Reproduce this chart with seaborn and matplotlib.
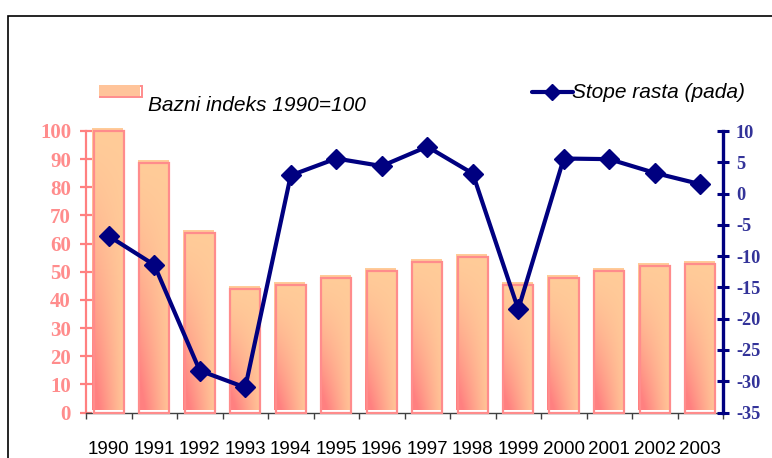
import numpy as np
import pandas as pd
import matplotlib
matplotlib.use("Agg")
import matplotlib.pyplot as plt
import matplotlib.transforms as mtransforms
from matplotlib.patches import Rectangle
from matplotlib.lines import Line2D
import seaborn as sns

# ---- data ----
years = ["1990", "1991", "1992", "1993", "1994", "1995", "1996",
         "1997", "1998", "1999", "2000", "2001", "2002", "2003"]
base_index = [100, 88.6, 63.8, 43.7, 45.2, 47.8, 50.2, 53.5, 55.3, 45.2, 47.8, 50.4, 52.1, 52.9]
growth_rates = [-6.8, -11.4, -28.3, -31.0, 2.9, 5.6, 4.4, 7.5, 3.2, -18.5, 5.6, 5.5, 3.3, 1.5]
left_ticks = [0, 10, 20, 30, 40, 50, 60, 70, 80, 90, 100]
right_ticks = [-35, -30, -25, -20, -15, -10, -5, 0, 5, 10]
legend_bar = "Bazni indeks 1990=100"
legend_line = "Stope rasta (pada)"

PINK = "#FF8080"
PEACH = "#FFCC99"
NAVY = "#000080"
RLABEL = "#333399"

W, H = 772, 458
sns.set_theme(style="white")
plt.rcParams['font.family'] = ['Liberation Sans', 'DejaVu Sans']

def fx(x):
    return x / W

def fy(y):
    return 1 - y / H

fig = plt.figure(figsize=(W / 100, H / 100), dpi=100)
ax = fig.add_axes([fx(86), fy(412.5), (723 - 86) / W, (412.5 - 131) / H])

df = pd.DataFrame({"year": years, "index": base_index, "rate": growth_rates})
sns.barplot(data=df, x="year", y="index", ax=ax, width=0.66, color=PEACH, zorder=3)

# gradient fill for each bar, slightly shifted up-left, outline drawn on top
pk = np.array(matplotlib.colors.to_rgb(PINK))
pc = np.array(matplotlib.colors.to_rgb(PEACH))
ny, nx = 80, 30
yy, xx = np.mgrid[0:ny, 0:nx]
yr = yy / (ny - 1)
xr = xx / (nx - 1)
w = np.clip(1.15 * (1 - xr) ** 1.1 * (1 - yr) ** 1.6 + 0.12 * (1 - yr), 0, 1)
grad = pc[None, None, :] * (1 - w[..., None]) + pk[None, None, :] * w[..., None]

off = mtransforms.ScaledTranslation(-1.5 / 100, 2.5 / 100, fig.dpi_scale_trans)
for p in ax.patches:
    x0 = p.get_x()
    x1 = x0 + p.get_width()
    h = p.get_height()
    im = ax.imshow(grad, extent=(x0, x1, 0, h), origin="lower", aspect="auto",
                   interpolation="bilinear", zorder=2, transform=ax.transData + off)
    im.set_clip_on(False)
    p.set_facecolor("none")
    p.set_edgecolor("#FF8C8C")
    p.set_linewidth(1.6)
    p.set_clip_on(False)

ax.set_xlim(-0.5, len(years) - 0.5)
ax.set_ylim(0, 100)
ax.set_xlabel("")
ax.set_ylabel("")

# twin axis line
ax2 = ax.twinx()
sns.lineplot(x=np.arange(len(years)), y=growth_rates, ax=ax2, color=NAVY,
             linewidth=3.0, marker="D", markersize=10.5, markeredgecolor=NAVY,
             markeredgewidth=1, sort=False, zorder=5)
ax2.set_ylim(-35, 10)
ax2.set_xlim(-0.5, len(years) - 0.5)
ax2.set_ylabel("")

# spines
for s in ["top", "right"]:
    ax.spines[s].set_visible(False)
ax.spines["left"].set_color(PINK)
ax.spines["left"].set_linewidth(1.6)
ax.spines["bottom"].set_color("#404040")
ax.spines["bottom"].set_linewidth(1.0)
for s in ["top", "left", "bottom"]:
    ax2.spines[s].set_visible(False)
ax2.spines["right"].set_color(NAVY)
ax2.spines["right"].set_linewidth(2.4)

# ticks
serif = {"family": "Liberation Serif", "weight": "bold"}
ax.set_yticks(left_ticks)
ax.set_yticklabels([str(t) for t in left_ticks], fontdict=dict(serif, size=15))
ax.tick_params(axis="y", left=True, direction="inout", length=8.6, width=1.6,
               color=PINK, labelcolor="#FF8C8C", pad=6.5)
ax2.set_yticks(right_ticks)
ax2.set_yticklabels([str(t) for t in right_ticks], fontdict=dict(serif, size=13.2))
ax2.tick_params(axis="y", right=True, direction="inout", length=8.6, width=2.2,
                color=NAVY, labelcolor=RLABEL, pad=5.0)

ax.set_xticks(np.arange(-0.5, len(years), 1.0))
ax.set_xticklabels([])
ax.set_xticks(np.arange(len(years)), minor=True)
ax.set_xticklabels(years, minor=True, fontsize=13.5, color="black")
ax.tick_params(axis="x", which="major", bottom=True, direction="out", length=4.5,
               width=1.0, color="#404040", labelbottom=False)
ax.tick_params(axis="x", which="minor", bottom=True, length=0, pad=20.5)

# legend (manual)
fig.add_artist(Rectangle((fx(100), fy(97)), 42 / W, 11 / H, transform=fig.transFigure,
                         facecolor="none", edgecolor="#FF8C8C", linewidth=1.4))
fig.add_artist(Rectangle((fx(98.5), fy(95.5)), 41 / W, 10 / H, transform=fig.transFigure,
                         facecolor="#FFC49A", edgecolor="none"))
fig.text(fx(148), fy(110.7), legend_bar, fontsize=15, fontstyle="italic",
         ha="left", va="baseline", color="black")
fig.add_artist(Line2D([fx(532), fx(573)], [fy(91.5), fy(91.5)], transform=fig.transFigure,
                      color=NAVY, linewidth=3.0))
fig.add_artist(Line2D([fx(552)], [fy(91.5)], transform=fig.transFigure, marker="D",
                      markersize=8, color=NAVY))
fig.text(fx(572), fy(98), legend_line, fontsize=15, fontstyle="italic",
         ha="left", va="baseline", color="black")

# outer frame
fig.add_artist(Rectangle((fx(8), -0.1), 1.2, fy(16) + 0.1, transform=fig.transFigure,
                         facecolor="none", edgecolor="black", linewidth=1.2, clip_on=False))

fig.savefig("out.png", dpi=100)
